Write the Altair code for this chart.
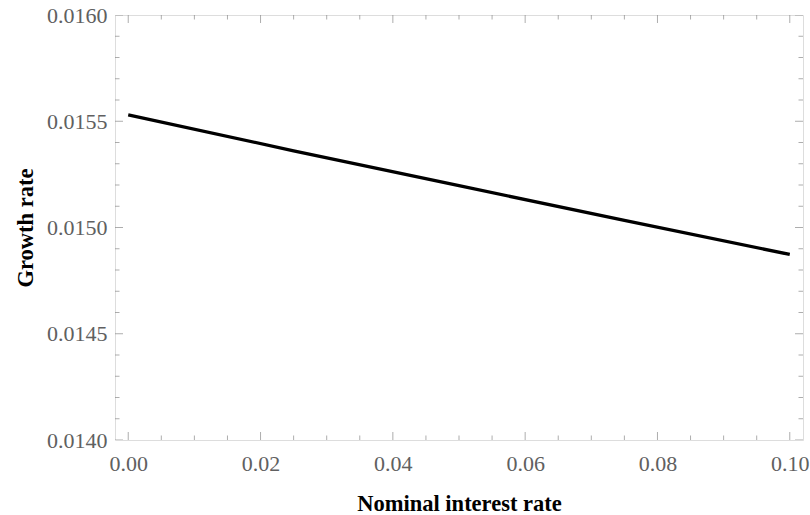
import altair as alt
import pandas as pd

# data
rate = [0.0, 0.025, 0.05, 0.075, 0.10]
growth = [0.01553, 0.015361, 0.015197, 0.015033, 0.014873]

x_domain = [-0.002, 0.102]
y_domain = [0.0140, 0.0160]

x_major = [0.0, 0.02, 0.04, 0.06, 0.08, 0.10]
x_minor = [0.005, 0.01, 0.015, 0.025, 0.03, 0.035, 0.045, 0.05, 0.055,
           0.065, 0.07, 0.075, 0.085, 0.09, 0.095]
y_major = [0.0140, 0.0145, 0.0150, 0.0155, 0.0160]
y_minor = [0.0141, 0.0142, 0.0143, 0.0144, 0.0146, 0.0147, 0.0148, 0.0149,
           0.0151, 0.0152, 0.0153, 0.0154, 0.0156, 0.0157, 0.0158, 0.0159]

FONT = "Liberation Serif"
GRAY = "#8a8a8a"
LABEL = "#606060"

xs = alt.Scale(domain=x_domain, nice=False, zero=False)
ys = alt.Scale(domain=y_domain, nice=False, zero=False)

line_df = pd.DataFrame({"rate": rate, "growth": growth})

base = alt.Chart(line_df).mark_line(color="black", strokeWidth=3.3).encode(
    x=alt.X("rate:Q", scale=xs,
            axis=alt.Axis(values=x_major, format=".2f", title="Nominal interest rate",
                          ticks=False, tickSize=0, domain=False, grid=False,
                          labelFont=FONT, labelFontSize=22, labelColor=LABEL,
                          labelBaseline="alphabetic", labelPadding=30,
                          titleFont=FONT, titleFontSize=22.5,
                          titleFontWeight="bold", titleColor="black",
                          titleY=70, titleBaseline="alphabetic")),
    y=alt.Y("growth:Q", scale=ys,
            axis=alt.Axis(values=y_major, format=".4f", title="Growth rate",
                          ticks=False, tickSize=0, domain=False, grid=False,
                          labelFont=FONT, labelFontSize=22, labelColor=LABEL,
                          labelPadding=8, titleFont=FONT, titleFontSize=22.5,
                          titleFontWeight="bold", titleColor="black",
                          titleX=-83, titleBaseline="alphabetic",
                          titleAlign="center", titleAngle=-90)),
)


def xticks(vals, edge, size):
    df = pd.DataFrame({"v": vals, "e": [edge] * len(vals)})
    return alt.Chart(df).mark_tick(orient="vertical", size=size, thickness=1,
                                   color=GRAY, clip=True).encode(
        x=alt.X("v:Q", scale=xs), y=alt.Y("e:Q", scale=ys))


def yticks(vals, edge, size):
    df = pd.DataFrame({"v": vals, "e": [edge] * len(vals)})
    return alt.Chart(df).mark_tick(orient="horizontal", size=size, thickness=1,
                                   color=GRAY, clip=True).encode(
        y=alt.Y("v:Q", scale=ys), x=alt.X("e:Q", scale=xs))


layers = [
    xticks(x_major, y_domain[0], 16), xticks(x_minor, y_domain[0], 9),
    xticks(x_major, y_domain[1], 16), xticks(x_minor, y_domain[1], 9),
    yticks(y_major, x_domain[0], 16), yticks(y_minor, x_domain[0], 9),
    yticks(y_major, x_domain[1], 16), yticks(y_minor, x_domain[1], 9),
    base,
]

chart = alt.layer(*layers).properties(
    width=688, height=425,
    autosize=alt.AutoSizeParams(type="none"),
    padding={"left": 115, "top": 15, "right": 7, "bottom": 75},
).configure_view(stroke=GRAY, strokeWidth=1.2).configure(background="white")

chart.save("out.html", embed_options={"renderer": "svg", "actions": False})
